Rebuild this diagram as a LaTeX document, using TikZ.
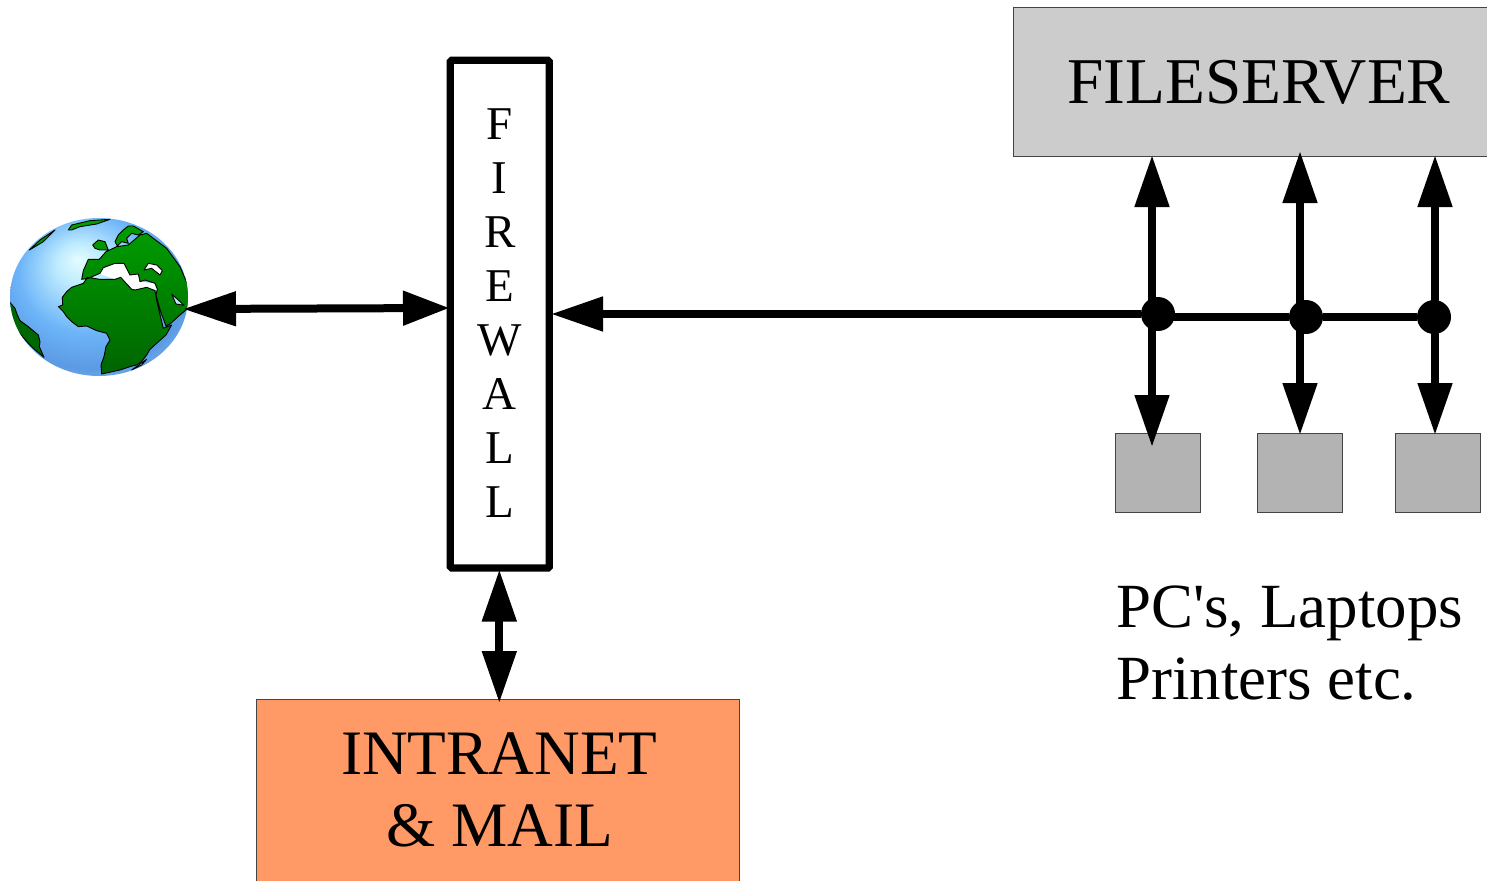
\documentclass[tikz,border=0pt]{standalone}
\usepackage{fontspec}
\setmainfont{Liberation Serif}
\newfontfamily\plainserif{Liberation Serif}
\usetikzlibrary{arrows.meta,shapes.geometric}
\definecolor{landhi}{HTML}{00A000}
\definecolor{landlo}{HTML}{006400}
\definecolor{sandark}{HTML}{006800}
\definecolor{serverfill}{HTML}{CCCCCC}
\definecolor{pcfill}{HTML}{B3B3B3}
\definecolor{intrafill}{HTML}{FF9966}
\definecolor{edgegrey}{HTML}{444444}
\definecolor{gulf}{HTML}{B8E6FF}
\definecolor{ga}{HTML}{E4FCFF}
\definecolor{gb}{HTML}{BCEAFF}
\definecolor{gc}{HTML}{6CB4F8}
\definecolor{gd}{HTML}{5C9AE4}
\definecolor{ge}{HTML}{80BCF4}
\definecolor{gf}{HTML}{A8DCFF}
\pgfdeclareradialshading{globeshade}{\pgfpoint{-6bp}{12bp}}{
  color(0bp)=(ga);
  color(7bp)=(gb);
  color(19bp)=(gc);
  color(28bp)=(gd);
  color(35bp)=(ge);
  color(42bp)=(gf);
  color(50bp)=(gf)}
\tikzset{
  arrowline/.style={line width=8pt,{Triangle[length=52pt,width=33pt]}-{Triangle[length=52pt,width=33pt]}},
  shortarrow/.style={line width=8pt,{Triangle[length=53pt,width=33pt]}-{Triangle[length=46.5pt,width=33pt]}},
  singlearrow/.style={line width=8pt,{Triangle[length=52pt,width=33pt]}-},
  busline/.style={line width=8pt},
  junction/.style={circle,fill=black,minimum size=34pt,inner sep=0pt},
  thinbox/.style={rectangle,draw=edgegrey,line width=1pt,inner sep=0pt,outer sep=0pt},
  pcbox/.style={thinbox,fill=pcfill,minimum width=85pt,minimum height=79pt},
  coast/.style={draw=black,line width=.9pt,line join=round},
}
\begin{document}
\begin{tikzpicture}[x=1pt,y=-1pt]
\useasboundingbox (0,0) rectangle (1487,880);
\clip (0,0) rectangle (1487,880);
% boxes
\node[thinbox,fill=serverfill,minimum width=474pt,minimum height=148pt,font=\fontsize{65.3}{72}\selectfont] (server) at (1250,82) {\hspace*{18pt}FILESERVER};
\node[thinbox,fill=intrafill,minimum width=483.5pt,minimum height=182pt,font=\fontsize{63.3}{72}\selectfont,align=center] (intranet) at (498,790) {\hspace*{2.5pt}INTRANET\\\hspace*{3pt}\&\ MAIL};
\node[pcbox] (pca) at (1158,472.5) {};
\node[pcbox] (pcb) at (1300,472.5) {};
\node[pcbox] (pcc) at (1438,472.5) {};
\node[rectangle,draw=black,line width=7.3pt,fill=white,minimum width=99pt,minimum height=507.7pt,inner sep=0pt,align=center,font=\fontsize{47}{54.1}\selectfont,rounded corners=1.5pt,text depth=2pt] (fw) at (499.8,314.2) {F\\I\\R\\E\\W\\A\\L\\L};
\node[font=\plainserif\fontsize{62.9}{72}\selectfont,align=left,anchor=base west,inner sep=0pt] (pclabel) at (1116,699) {PC's, Laptops\\Printers etc.};
% globe
\node[ellipse,minimum width=178pt,minimum height=158pt,inner sep=0pt,shading=globeshade] (globe) at (99,297) {};
\begin{scope}
\clip (99,297) ellipse [x radius=89pt,y radius=79pt];
\begin{scope}[shift={(0,200)},x=.3333pt,y=-.3333pt]
\fill[white] (300,205)--(345,190)--(372,190)--(390,225)--(415,222)--(420,245)--(468,250)--(472,272)--(440,262)--(405,270)--(395,268)--(345,238)--(300,222)--cycle;
\fill[coast,fill=sandark] (28,305)--(45,325)--(52,345)--(60,362)--(85,380)--(115,405)--(120,425)--(118,440)--(132,472)--(100,445)--(85,430)--(50,390)--(28,350)--cycle;
\shadedraw[coast,top color=landhi,bottom color=landlo]
  (175,320)--(188,315)--(187,292)--(200,275)--(215,262)--(250,250)--(262,232)--(300,238)--(345,238)--(362,232)--(395,268)--(405,270)--(440,262)--(465,272)--(470,300)--(478,335)--(490,385)--(515,375)--(498,405)--(470,430)--(450,448)--(440,465)--(425,485)--(410,495)--(390,500)--(360,510)--(305,522)--(303,495)--(312,470)--(318,440)--(330,420)--(320,400)--(290,392)--(260,378)--(235,380)--(215,365)--(200,350)--(190,335)--cycle
  (250,212)--(265,178)--(298,178)--(318,155)--(350,140)--(385,135)--(420,105)--(440,100)--(500,145)--(540,200)--(570,270)--(570,320)--(552,335)--(540,345)--(510,372)--(498,378)--(482,335)--(468,285)--(472,268)--(465,250)--(435,240)--(420,245)--(415,222)--(390,225)--(372,190)--(345,190)--(310,203)--(300,220)--(265,235)--(245,238)--cycle
  (345,125)--(355,105)--(370,90)--(385,78)--(400,78)--(430,95)--(415,105)--(395,100)--(380,115)--(385,130)--(365,125)--(352,138)--cycle
  (278,135)--(295,120)--(315,125)--(325,150)--(300,150)--(285,145)--cycle
  (205,90)--(215,75)--(270,62)--(330,58)--(290,72)--(240,80)--(215,90)--cycle
  (88,150)--(120,120)--(165,90)--(130,125)--(105,140)--cycle;
\filldraw[coast,fill=white] (432,210)--(445,190)--(470,195)--(487,212)--(480,225)--(455,205)--cycle;
\filldraw[coast,fill=gulf] (515,282)--(535,300)--(552,316)--(528,312)--cycle;
\filldraw[coast,fill=gulf] (395,510)--(440,478)--(425,495)--cycle;
\end{scope}
\end{scope}
% junctions and wiring
\node[junction] (ja) at (1158,314) {};
\node[junction] (jb) at (1306,317) {};
\node[junction] (jc) at (1434,317) {};
\coordinate (gport) at (183,309);
\coordinate (gin) at (449.5,308);
\coordinate (fwin) at (551,314);
\draw[shortarrow] (gport) -- (gin);
\draw[singlearrow] (fwin) -- (ja);
\draw[busline] (ja.center |- jb) -- (jb) -- (jc);
\coordinate (va) at (1152,155);
\coordinate (vb) at (1300,151);
\coordinate (vc) at (1435,155);
\coordinate (vae) at (1152,447);
\coordinate (vbe) at (1300,435);
\coordinate (vce) at (1435,435);
\draw[arrowline] (va) -- (vae);
\draw[arrowline] (vb) -- (vbe);
\draw[arrowline] (vc) -- (vce);
\coordinate (fb) at (499.3,569.5);
\coordinate (fbe) at (499.3,703);
\draw[arrowline] (fb) -- (fbe);
\end{tikzpicture}
\end{document}
